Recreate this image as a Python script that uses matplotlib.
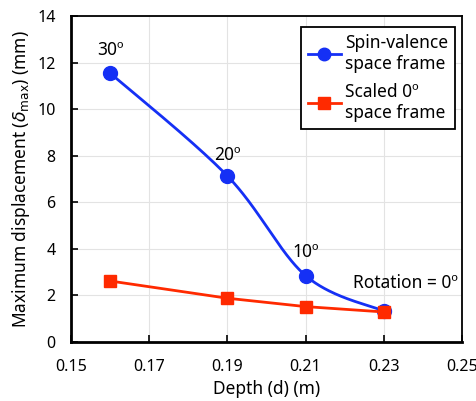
import numpy as np
import matplotlib.pyplot as plt

plt.rcParams['font.family'] = ['Noto Sans', 'DejaVu Sans']
plt.rcParams['mathtext.fontset'] = 'dejavusans'

# Data
depth = [0.16, 0.19, 0.21, 0.23]
spin_valence = [11.55, 7.13, 2.85, 1.33]
scaled_0 = [2.62, 1.88, 1.52, 1.29]
rotation_labels = ['30º', '20º', '10º', 'Rotation = 0º']


def smooth(x, y, n=60):
    # Catmull-Rom style bezier through points (scaled to axis spans)
    x = np.asarray(x, float) / 0.10
    y = np.asarray(y, float) / 14.0
    px = np.concatenate([[x[0]], x, [x[-1]]])
    py = np.concatenate([[y[0]], y, [y[-1]]])
    xs, ys = [], []
    t = np.linspace(0, 1, n)
    for i in range(1, len(px) - 2):
        p0 = np.array([px[i], py[i]])
        p3 = np.array([px[i + 1], py[i + 1]])
        p1 = p0 + (np.array([px[i + 1], py[i + 1]]) - np.array([px[i - 1], py[i - 1]])) / 6
        p2 = p3 - (np.array([px[i + 2], py[i + 2]]) - np.array([px[i], py[i]])) / 6
        b = ((1 - t) ** 3)[:, None] * p0 + (3 * (1 - t) ** 2 * t)[:, None] * p1 \
            + (3 * (1 - t) * t ** 2)[:, None] * p2 + (t ** 3)[:, None] * p3
        xs.extend(b[:, 0])
        ys.extend(b[:, 1])
    return np.array(xs) * 0.10, np.array(ys) * 14.0


fig = plt.figure(figsize=(4.77, 4.01), dpi=100)
ax = fig.add_axes([71 / 477, 1 - 342 / 401, 391 / 477, 326 / 401])

blue = '#1530f5'
red = '#ff2a00'

sx, sy = smooth(depth, spin_valence)
ax.plot(sx, sy, color=blue, lw=2, zorder=3)
ax.plot(depth, spin_valence, 'o', color=blue, ms=10, zorder=4)
ax.plot([], [], '-o', color=blue, lw=2, ms=9, label='Spin-valence\nspace frame')

ax.plot(depth, scaled_0, '-s', color=red, lw=2, ms=8.5, zorder=5,
        label='Scaled 0º\nspace frame')

# Rotation annotations
offsets = [(0, 1.0), (0, 0.9), (0, 1.0), (0.0055, 1.2)]
for x, y, txt, (dx, dy) in zip(depth, spin_valence, rotation_labels, offsets):
    ax.text(x + dx, y + dy, txt, ha='center', va='center', fontsize=12.5)

ax.set_xlim(0.15, 0.25)
ax.set_ylim(0, 14)
ax.set_xticks([0.15, 0.17, 0.19, 0.21, 0.23, 0.25])
ax.set_xticklabels(['0.15', '0.17', '0.19', '0.21', '0.23', '0.25'])
ax.set_yticks(range(0, 15, 2))
ax.grid(True, color='#e3e3e3', lw=0.8)
ax.set_axisbelow(True)
ax.tick_params(direction='in', length=5, width=1.2, labelsize=11.5)
ax.tick_params(axis='x', pad=12)
ax.tick_params(axis='y', pad=11)
for s in ax.spines.values():
    s.set_linewidth(1.3)
    s.set_color('black')
ax.spines['left'].set_linewidth(2)
ax.spines['bottom'].set_linewidth(2)

ax.set_xlabel('Depth (d) (m)', fontsize=12.5, labelpad=4)
ax.set_ylabel(r'Maximum displacement ($\delta_{\mathrm{max}}$) (mm)', fontsize=12.5, labelpad=4)

leg = ax.legend(loc='upper right', bbox_to_anchor=(0.982, 0.967), fontsize=12.5,
                fancybox=False, edgecolor='black', framealpha=1,
                handlelength=1.9, handletextpad=0.25, borderpad=0.4,
                labelspacing=0.6, borderaxespad=0)
leg.get_frame().set_linewidth(1.3)

fig.savefig('out.png', dpi=100)
